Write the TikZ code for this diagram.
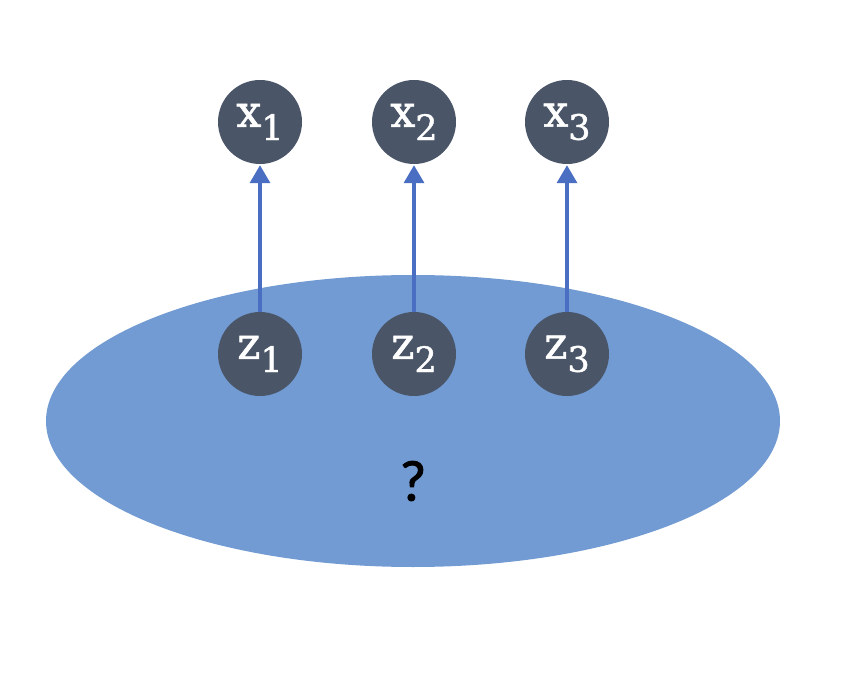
\documentclass[tikz,border=0pt]{standalone}
\usepackage{fontspec}
\setmainfont{DejaVu Serif}[FakeBold=1.2]
\newfontfamily\qfont{Carlito}[FakeBold=1.5]
\usetikzlibrary{arrows.meta,shapes.geometric}
\definecolor{cloud}{HTML}{719BD2}
\definecolor{varfill}{HTML}{4A5568}
\definecolor{linkblue}{HTML}{4A6FC2}
\newcommand{\varlabel}[2]{\raisebox{-6pt}{\fontsize{44}{44}\selectfont #1\raisebox{-0.3em}{\fontsize{35}{35}\selectfont #2}}}
\tikzset{
  var/.style={circle, fill=varfill, minimum size=84pt, inner sep=0pt, text=white},
  link/.style={draw=linkblue, line width=3.5pt, -{Triangle[length=18pt,width=20pt]}, shorten >=1pt}
}
\begin{document}
\begin{tikzpicture}[x=1pt,y=-1pt]
  \useasboundingbox (0,0) rectangle (851,676);
  % latent region
  \node (cloud) [ellipse, fill=cloud, minimum width=734pt, minimum height=292pt, inner sep=0pt] at (413,421) {};
  \node (q) at (413,481) {\qfont\fontsize{58}{58}\selectfont ?};
  % latent variables
  \node (z1) [var] at (260,354) {\varlabel{z}{1}};
  \node (z2) [var] at (414,354) {\varlabel{z}{2}};
  \node (z3) [var] at (567,354) {\varlabel{z}{3}};
  % observed variables
  \node (x1) [var] at (260,122) {\varlabel{x}{1}};
  \node (x2) [var] at (414,122) {\varlabel{x}{2}};
  \node (x3) [var] at (567,122) {\varlabel{x}{3}};
  \draw[link] (z1) -- (x1);
  \draw[link] (z2) -- (x2);
  \draw[link] (z3) -- (x3);
\end{tikzpicture}
\end{document}
